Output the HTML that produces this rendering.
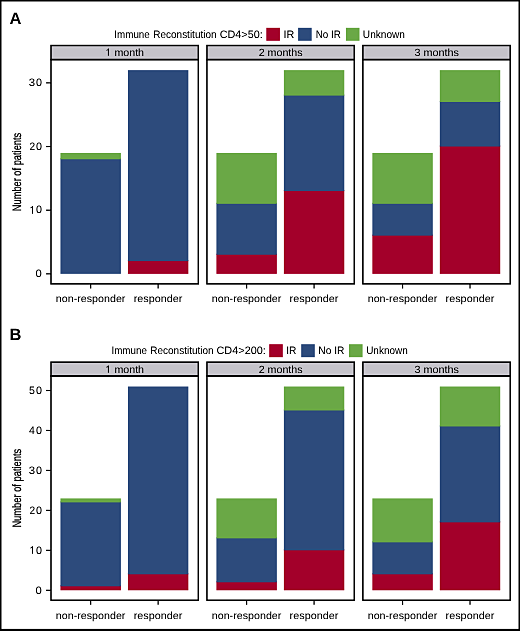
<!DOCTYPE html><html><head><meta charset="utf-8"><title>Immune reconstitution</title><style>html,body{margin:0;padding:0;background:#fff;}svg{display:block;}text{font-family:"Liberation Sans",sans-serif;text-rendering:geometricPrecision;}</style></head><body>
<svg width="520" height="631" viewBox="0 0 520 631">
<defs><filter id="sh" x="0" y="0" width="520" height="631" filterUnits="userSpaceOnUse" color-interpolation-filters="sRGB"><feGaussianBlur in="SourceGraphic" stdDeviation="1.00" result="b"/><feComposite in="SourceGraphic" in2="b" operator="arithmetic" k1="0" k2="1.400" k3="-0.400" k4="0"/></filter></defs><g filter="url(#sh)">
<rect x="0" y="0" width="520" height="631" fill="#000"/>
<rect x="1.5" y="1.5" width="517" height="627.35" fill="#fff"/>
<rect x="266.30" y="27.80" width="13.6" height="13.0" fill="#a3002a"/>
<rect x="298.10" y="27.80" width="13.6" height="13.0" fill="#2d4b7c"/>
<rect x="345.90" y="27.80" width="13.6" height="13.0" fill="#6aa846"/>
<rect x="51.00" y="45.50" width="147.30" height="14.10" fill="#c5c3ca" stroke="#000" stroke-width="1.45"/>
<path d="M108.96 48.60 L108.01 48.60 L107.73 49.17 L107.16 49.69 L106.40 49.98 L106.40 50.78 L107.25 50.55 L107.92 50.12 L107.92 55.80 L108.96 55.80 Z" fill="#000" fill-opacity="0.92"/>
<rect x="60.45" y="158.26" width="60.45" height="115.59" fill="#2d4b7c"/>
<rect x="60.45" y="152.90" width="60.45" height="6.37" fill="#6aa846"/>
<line x1="90.68" y1="283.90" x2="90.68" y2="288.50" stroke="#000" stroke-width="1.2"/>
<rect x="127.90" y="260.12" width="60.45" height="13.73" fill="#a3002a"/>
<rect x="127.90" y="70.14" width="60.45" height="190.98" fill="#2d4b7c"/>
<line x1="158.12" y1="283.90" x2="158.12" y2="288.50" stroke="#000" stroke-width="1.2"/>
<rect x="51.00" y="59.60" width="147.30" height="224.30" fill="none" stroke="#000" stroke-width="1.45"/>
<rect x="206.95" y="45.50" width="147.30" height="14.10" fill="#c5c3ca" stroke="#000" stroke-width="1.45"/>
<rect x="216.40" y="253.75" width="60.45" height="20.10" fill="#a3002a"/>
<rect x="216.40" y="202.82" width="60.45" height="51.93" fill="#2d4b7c"/>
<rect x="216.40" y="152.90" width="60.45" height="50.93" fill="#6aa846"/>
<line x1="246.62" y1="283.90" x2="246.62" y2="288.50" stroke="#000" stroke-width="1.2"/>
<rect x="283.85" y="190.09" width="60.45" height="83.76" fill="#a3002a"/>
<rect x="283.85" y="94.60" width="60.45" height="96.49" fill="#2d4b7c"/>
<rect x="283.85" y="70.14" width="60.45" height="25.46" fill="#6aa846"/>
<line x1="314.07" y1="283.90" x2="314.07" y2="288.50" stroke="#000" stroke-width="1.2"/>
<rect x="206.95" y="59.60" width="147.30" height="224.30" fill="none" stroke="#000" stroke-width="1.45"/>
<rect x="362.90" y="45.50" width="147.30" height="14.10" fill="#c5c3ca" stroke="#000" stroke-width="1.45"/>
<rect x="372.35" y="234.65" width="60.45" height="39.20" fill="#a3002a"/>
<rect x="372.35" y="202.82" width="60.45" height="32.83" fill="#2d4b7c"/>
<rect x="372.35" y="152.90" width="60.45" height="50.93" fill="#6aa846"/>
<line x1="402.57" y1="283.90" x2="402.57" y2="288.50" stroke="#000" stroke-width="1.2"/>
<rect x="439.80" y="145.53" width="60.45" height="128.32" fill="#a3002a"/>
<rect x="439.80" y="100.97" width="60.45" height="45.56" fill="#2d4b7c"/>
<rect x="439.80" y="70.14" width="60.45" height="31.83" fill="#6aa846"/>
<line x1="470.02" y1="283.90" x2="470.02" y2="288.50" stroke="#000" stroke-width="1.2"/>
<rect x="362.90" y="59.60" width="147.30" height="224.30" fill="none" stroke="#000" stroke-width="1.45"/>
<line x1="46.10" y1="273.85" x2="51.00" y2="273.85" stroke="#000" stroke-width="1.2"/>
<line x1="46.10" y1="210.19" x2="51.00" y2="210.19" stroke="#000" stroke-width="1.2"/>
<path d="M33.05 206.04 L32.05 206.04 L31.75 206.64 L31.15 207.19 L30.35 207.49 L30.35 208.34 L31.25 208.09 L31.95 207.64 L31.95 213.69 L33.05 213.69 Z" fill="#000" fill-opacity="0.92"/>
<line x1="46.10" y1="146.53" x2="51.00" y2="146.53" stroke="#000" stroke-width="1.2"/>
<line x1="46.10" y1="82.87" x2="51.00" y2="82.87" stroke="#000" stroke-width="1.2"/>
<rect x="269.20" y="344.20" width="13.6" height="13.0" fill="#a3002a"/>
<rect x="301.20" y="344.20" width="13.6" height="13.0" fill="#2d4b7c"/>
<rect x="349.00" y="344.20" width="13.6" height="13.0" fill="#6aa846"/>
<rect x="51.00" y="362.10" width="147.30" height="13.90" fill="#c5c3ca" stroke="#000" stroke-width="1.45"/>
<path d="M108.96 365.45 L108.01 365.45 L107.73 366.02 L107.16 366.54 L106.40 366.83 L106.40 367.63 L107.25 367.40 L107.92 366.97 L107.92 372.65 L108.96 372.65 Z" fill="#000" fill-opacity="0.92"/>
<rect x="60.45" y="585.30" width="60.45" height="5.00" fill="#a3002a"/>
<rect x="60.45" y="501.39" width="60.45" height="84.92" fill="#2d4b7c"/>
<rect x="60.45" y="498.39" width="60.45" height="4.00" fill="#6aa846"/>
<line x1="90.68" y1="600.20" x2="90.68" y2="604.80" stroke="#000" stroke-width="1.2"/>
<rect x="127.90" y="573.32" width="60.45" height="16.98" fill="#a3002a"/>
<rect x="127.90" y="386.50" width="60.45" height="187.81" fill="#2d4b7c"/>
<line x1="158.12" y1="600.20" x2="158.12" y2="604.80" stroke="#000" stroke-width="1.2"/>
<rect x="51.00" y="376.00" width="147.30" height="224.20" fill="none" stroke="#000" stroke-width="1.45"/>
<rect x="206.95" y="362.10" width="147.30" height="13.90" fill="#c5c3ca" stroke="#000" stroke-width="1.45"/>
<rect x="216.40" y="581.31" width="60.45" height="8.99" fill="#a3002a"/>
<rect x="216.40" y="537.35" width="60.45" height="44.96" fill="#2d4b7c"/>
<rect x="216.40" y="498.39" width="60.45" height="39.96" fill="#6aa846"/>
<line x1="246.62" y1="600.20" x2="246.62" y2="604.80" stroke="#000" stroke-width="1.2"/>
<rect x="283.85" y="549.34" width="60.45" height="40.96" fill="#a3002a"/>
<rect x="283.85" y="409.48" width="60.45" height="140.86" fill="#2d4b7c"/>
<rect x="283.85" y="386.50" width="60.45" height="23.98" fill="#6aa846"/>
<line x1="314.07" y1="600.20" x2="314.07" y2="604.80" stroke="#000" stroke-width="1.2"/>
<rect x="206.95" y="376.00" width="147.30" height="224.20" fill="none" stroke="#000" stroke-width="1.45"/>
<rect x="362.90" y="362.10" width="147.30" height="13.90" fill="#c5c3ca" stroke="#000" stroke-width="1.45"/>
<rect x="372.35" y="573.32" width="60.45" height="16.98" fill="#a3002a"/>
<rect x="372.35" y="541.35" width="60.45" height="32.97" fill="#2d4b7c"/>
<rect x="372.35" y="498.39" width="60.45" height="43.96" fill="#6aa846"/>
<line x1="402.57" y1="600.20" x2="402.57" y2="604.80" stroke="#000" stroke-width="1.2"/>
<rect x="439.80" y="521.37" width="60.45" height="68.93" fill="#a3002a"/>
<rect x="439.80" y="425.46" width="60.45" height="96.90" fill="#2d4b7c"/>
<rect x="439.80" y="386.50" width="60.45" height="39.96" fill="#6aa846"/>
<line x1="470.02" y1="600.20" x2="470.02" y2="604.80" stroke="#000" stroke-width="1.2"/>
<rect x="362.90" y="376.00" width="147.30" height="224.20" fill="none" stroke="#000" stroke-width="1.45"/>
<line x1="46.10" y1="590.30" x2="51.00" y2="590.30" stroke="#000" stroke-width="1.2"/>
<line x1="46.10" y1="550.34" x2="51.00" y2="550.34" stroke="#000" stroke-width="1.2"/>
<path d="M33.05 546.19 L32.05 546.19 L31.75 546.79 L31.15 547.34 L30.35 547.64 L30.35 548.49 L31.25 548.24 L31.95 547.79 L31.95 553.84 L33.05 553.84 Z" fill="#000" fill-opacity="0.92"/>
<line x1="46.10" y1="510.38" x2="51.00" y2="510.38" stroke="#000" stroke-width="1.2"/>
<line x1="46.10" y1="470.42" x2="51.00" y2="470.42" stroke="#000" stroke-width="1.2"/>
<line x1="46.10" y1="430.46" x2="51.00" y2="430.46" stroke="#000" stroke-width="1.2"/>
<line x1="46.10" y1="390.50" x2="51.00" y2="390.50" stroke="#000" stroke-width="1.2"/>
<g style="will-change:transform" stroke="#000" stroke-width="0.00">
<text x="9.6" y="23.70" font-size="16.5" font-weight="bold" fill="#000">A</text>
<text transform="translate(114.345 37.750) scale(0.9085 1)" font-size="10.80" fill="#000">Immune</text>
<text transform="translate(153.281 37.750) scale(0.9244 1)" font-size="10.80" fill="#000">Reconstitution</text>
<text transform="translate(219.700 37.750) scale(1.0026 1)" font-size="10.80" fill="#000">CD4&gt;50:</text>
<text transform="translate(283.454 37.750) scale(0.9997 1)" font-size="10.80" fill="#000">IR</text>
<text transform="translate(315.741 37.750) scale(0.9134 1)" font-size="10.80" fill="#000">No IR</text>
<text transform="translate(362.870 37.750) scale(0.9358 1)" font-size="10.80" fill="#000">Unknown</text>
<text transform="translate(114.392 55.800) scale(1.0258 1)" font-size="10.40" fill="#000">month</text>
<text transform="translate(55.789 301.900) scale(1.0395 1)" font-size="10.30" fill="#000">non-responder</text>
<text transform="translate(133.655 301.900) scale(1.0522 1)" font-size="10.30" fill="#000">responder</text>
<text transform="translate(258.663 55.800) scale(1.0268 1)" font-size="10.40" fill="#000">2 months</text>
<text transform="translate(211.739 301.900) scale(1.0395 1)" font-size="10.30" fill="#000">non-responder</text>
<text transform="translate(289.605 301.900) scale(1.0522 1)" font-size="10.30" fill="#000">responder</text>
<text transform="translate(414.439 55.800) scale(1.0379 1)" font-size="10.40" fill="#000">3 months</text>
<text transform="translate(367.689 301.900) scale(1.0395 1)" font-size="10.30" fill="#000">non-responder</text>
<text transform="translate(445.555 301.900) scale(1.0522 1)" font-size="10.30" fill="#000">responder</text>
<text transform="translate(35.609 277.100) scale(1.0460 1)" font-size="10.80" fill="#000">0</text>
<text transform="translate(36.029 213.440) scale(0.9975 1)" font-size="10.80" fill="#000">0</text>
<text transform="translate(29.587 149.780) scale(0.9451 1)" font-size="10.80" fill="#000">2</text>
<text transform="translate(36.029 149.780) scale(0.9975 1)" font-size="10.80" fill="#000">0</text>
<text transform="translate(28.816 86.120) scale(1.0546 1)" font-size="10.80" fill="#000">3</text>
<text transform="translate(36.029 86.120) scale(0.9975 1)" font-size="10.80" fill="#000">0</text>
<text transform="translate(21.100 211.211) rotate(-90) scale(0.7733 1.0178)" font-size="12.00" fill="#000" stroke="#000" stroke-width="0.25">Number of patients</text>
<text x="9.6" y="340.30" font-size="16.5" font-weight="bold" fill="#000">B</text>
<text transform="translate(111.445 354.150) scale(0.9085 1)" font-size="10.80" fill="#000">Immune</text>
<text transform="translate(150.280 354.150) scale(0.9252 1)" font-size="10.80" fill="#000">Reconstitution</text>
<text transform="translate(216.497 354.150) scale(1.0085 1)" font-size="10.80" fill="#000">CD4&gt;200:</text>
<text transform="translate(286.207 354.150) scale(0.9460 1)" font-size="10.80" fill="#000">IR</text>
<text transform="translate(318.312 354.150) scale(0.9459 1)" font-size="10.80" fill="#000">No IR</text>
<text transform="translate(366.182 354.150) scale(0.9221 1)" font-size="10.80" fill="#000">Unknown</text>
<text transform="translate(114.392 372.650) scale(1.0258 1)" font-size="10.40" fill="#000">month</text>
<text transform="translate(55.789 618.600) scale(1.0395 1)" font-size="10.30" fill="#000">non-responder</text>
<text transform="translate(133.655 618.600) scale(1.0522 1)" font-size="10.30" fill="#000">responder</text>
<text transform="translate(258.663 372.650) scale(1.0268 1)" font-size="10.40" fill="#000">2 months</text>
<text transform="translate(211.739 618.600) scale(1.0395 1)" font-size="10.30" fill="#000">non-responder</text>
<text transform="translate(289.605 618.600) scale(1.0522 1)" font-size="10.30" fill="#000">responder</text>
<text transform="translate(414.439 372.650) scale(1.0379 1)" font-size="10.40" fill="#000">3 months</text>
<text transform="translate(367.689 618.600) scale(1.0395 1)" font-size="10.30" fill="#000">non-responder</text>
<text transform="translate(445.555 618.600) scale(1.0522 1)" font-size="10.30" fill="#000">responder</text>
<text transform="translate(35.609 593.550) scale(1.0460 1)" font-size="10.80" fill="#000">0</text>
<text transform="translate(36.029 553.590) scale(0.9975 1)" font-size="10.80" fill="#000">0</text>
<text transform="translate(29.587 513.630) scale(0.9451 1)" font-size="10.80" fill="#000">2</text>
<text transform="translate(36.029 513.630) scale(0.9975 1)" font-size="10.80" fill="#000">0</text>
<text transform="translate(28.816 473.670) scale(1.0546 1)" font-size="10.80" fill="#000">3</text>
<text transform="translate(36.029 473.670) scale(0.9975 1)" font-size="10.80" fill="#000">0</text>
<text transform="translate(29.009 433.710) scale(0.9739 1)" font-size="10.80" fill="#000">4</text>
<text transform="translate(36.029 433.710) scale(0.9975 1)" font-size="10.80" fill="#000">0</text>
<text transform="translate(28.924 393.750) scale(0.9862 1)" font-size="10.80" fill="#000">5</text>
<text transform="translate(36.029 393.750) scale(0.9975 1)" font-size="10.80" fill="#000">0</text>
<text transform="translate(21.100 527.615) rotate(-90) scale(0.7773 1.0178)" font-size="12.00" fill="#000" stroke="#000" stroke-width="0.25">Number of patients</text>
</g>
</g>
</svg></body></html>
